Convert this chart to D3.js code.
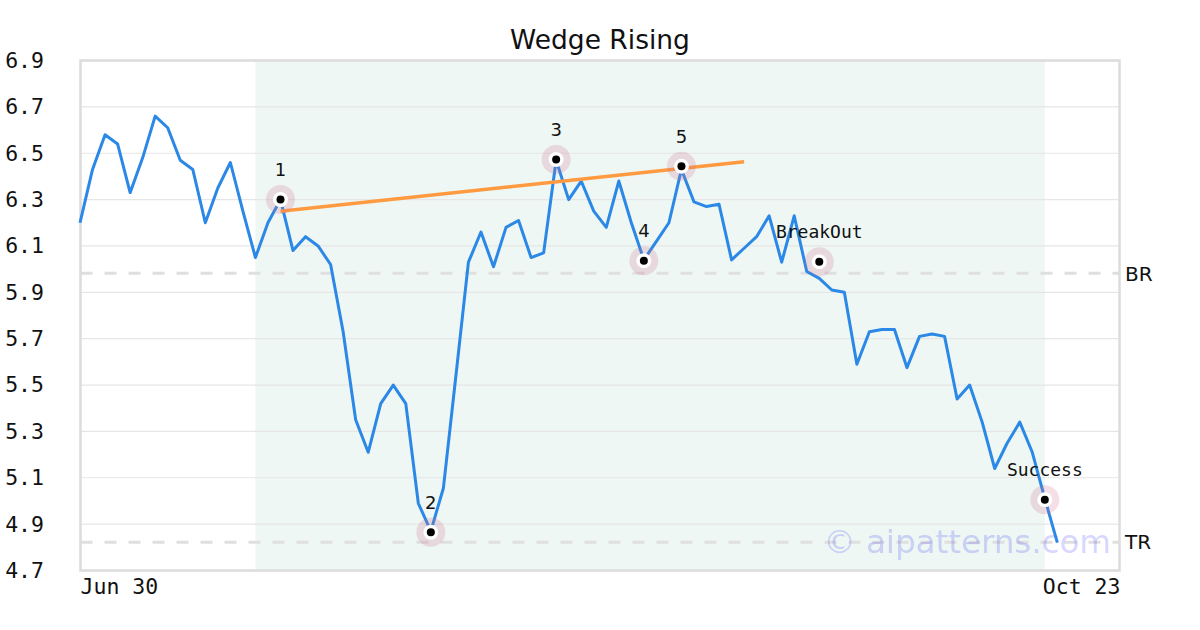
<!DOCTYPE html>
<html>
<head>
<meta charset="utf-8">
<script src="https://cdn.jsdelivr.net/npm/d3@7"></script>
<style>
  html, body { margin: 0; padding: 0; background: #ffffff; }
  svg { display: block; }
</style>
</head>
<body>
<svg id="chart" width="1200" height="630"></svg>
<script>
// ---- data ----
const title = "Wedge Rising";
const prices = [
  6.20, 6.43, 6.58, 6.54, 6.33, 6.48, 6.66, 6.61, 6.47, 6.43,
  6.20, 6.35, 6.46, 6.25, 6.05, 6.20, 6.30, 6.08, 6.14, 6.10,
  6.02, 5.73, 5.35, 5.21, 5.42, 5.50, 5.42, 4.99, 4.87, 5.055,
  5.54, 6.03, 6.16, 6.01, 6.18, 6.21, 6.05, 6.07, 6.47, 6.30,
  6.38, 6.25, 6.18, 6.38, 6.20, 6.04, 6.12, 6.20, 6.43, 6.29,
  6.27, 6.28, 6.04, 6.09, 6.14, 6.23, 6.03, 6.23, 5.99, 5.96,
  5.91, 5.90, 5.59, 5.73, 5.74, 5.74, 5.575, 5.71, 5.72, 5.71,
  5.44, 5.50, 5.34, 5.14, 5.25, 5.34, 5.21, 5.01, 4.82
];
const markerIdx    = [16, 28, 38, 45, 48, 59, 77];
const markerVals   = [6.30, 4.865, 6.473, 6.036, 6.444, 6.032, 5.005];
const markerLabels = ["1", "2", "3", "4", "5", "BreakOut", "Success"];
const trendIdx  = [16, 53];
const trendVals = [6.25, 6.463];
const shadeIdx  = [14, 77];
const levelNames = ["BR", "TR"];
const levelVals  = [5.982, 4.822];
const yTicks = [4.7, 4.9, 5.1, 5.3, 5.5, 5.7, 5.9, 6.1, 6.3, 6.5, 6.7, 6.9];
const xTickIdx = [0, 83];
const xTickLabels = ["Jun 30", "Oct 23"];
const xDomain = [0, 83];
const yDomain = [4.7, 6.9];
const watermark = "\u00a9 aipatterns.com";

// ---- layout ----
const L = 80.5, R = 1119.5, T = 60.5, B = 570.5;
const svg = d3.select("#chart");
const x = d3.scaleLinear().domain(xDomain).range([80, 1120]);
const y = d3.scaleLinear().domain(yDomain).range([B, T]);
const mono = "'DejaVu Sans Mono', monospace";
const sans = "'DejaVu Sans', sans-serif";

// shaded pattern region
svg.append("rect")
  .attr("x", x(shadeIdx[0])).attr("y", T)
  .attr("width", x(shadeIdx[1]) - x(shadeIdx[0])).attr("height", B - T)
  .attr("fill", "#eef7f3");

// grid
svg.append("g").selectAll("line")
  .data(yTicks.filter(v => v > yDomain[0] && v < yDomain[1]))
  .join("line")
  .attr("x1", L).attr("x2", R)
  .attr("y1", d => y(d)).attr("y2", d => y(d))
  .attr("stroke", "#e6e6e6").attr("stroke-width", 1.2);

// level lines
svg.append("g").selectAll("line").data(levelVals).join("line")
  .attr("x1", L).attr("x2", R)
  .attr("y1", d => y(d)).attr("y2", d => y(d))
  .attr("stroke", "#dfdfdf").attr("stroke-width", 3)
  .attr("stroke-dasharray", "12,12");
svg.append("g").selectAll("text").data(levelVals).join("text")
  .attr("x", 1125).attr("y", d => y(d))
  .attr("dy", "0.36em")
  .attr("font-family", sans).attr("font-size", 20)
  .attr("fill", "#111")
  .text((d, i) => levelNames[i]);

// frame
svg.append("rect")
  .attr("x", L).attr("y", T).attr("width", R - L).attr("height", B - T)
  .attr("fill", "none").attr("stroke", "#dcdcdc").attr("stroke-width", 2.5);

// y axis
const yAxis = d3.axisLeft(y).tickValues(yTicks).tickSize(0).tickPadding(36)
  .tickFormat(d3.format(".1f"));
const ya = svg.append("g").attr("transform", `translate(80,0)`).call(yAxis);
ya.select(".domain").remove();
ya.selectAll("text").attr("font-family", mono).attr("font-size", 21.5).attr("fill", "#111");

// x axis
const xAxis = d3.axisBottom(x).tickValues(xTickIdx).tickSize(0).tickPadding(8)
  .tickFormat((d, i) => xTickLabels[i]);
const xa = svg.append("g").attr("transform", `translate(0,${B})`).call(xAxis);
xa.select(".domain").remove();
xa.selectAll("text").attr("font-family", mono).attr("font-size", 21.5).attr("fill", "#111")
  .attr("text-anchor", (d, i) => i === 0 ? "start" : "end");

// watermark
svg.append("text")
  .attr("x", 1111).attr("y", 553)
  .attr("text-anchor", "end")
  .attr("font-family", sans).attr("font-size", 32.5)
  .attr("fill", "#0000ff").attr("fill-opacity", 0.18)
  .text(watermark);

// price line
svg.append("path")
  .datum(prices)
  .attr("d", d3.line().x((d, i) => x(i)).y(d => y(d)))
  .attr("fill", "none").attr("stroke", "#2b88e6").attr("stroke-width", 3)
  .attr("stroke-linejoin", "round");

// trend line
svg.append("line")
  .attr("x1", x(trendIdx[0])).attr("y1", y(trendVals[0]))
  .attr("x2", x(trendIdx[1])).attr("y2", y(trendVals[1]))
  .attr("stroke", "#ff9a40").attr("stroke-width", 3.5);

// markers
const mk = svg.append("g").selectAll("g").data(markerIdx).join("g")
  .attr("transform", (d, i) => `translate(${x(d)},${y(markerVals[i])})`);
mk.append("circle").attr("r", 14.5).attr("fill", "#cc6f8f").attr("fill-opacity", 0.22);
mk.append("circle").attr("r", 7.5).attr("fill", "#ffffff");
mk.append("circle").attr("r", 4).attr("fill", "#000000");
mk.append("text")
  .attr("y", -30).attr("dy", "0.36em")
  .attr("text-anchor", "middle")
  .attr("font-family", (d, i) => markerLabels[i].length > 1 ? mono : sans)
  .attr("font-size", 18)
  .attr("fill", "#111")
  .text((d, i) => markerLabels[i]);

// title
svg.append("text")
  .attr("x", 600).attr("y", 49)
  .attr("text-anchor", "middle")
  .attr("font-family", sans).attr("font-size", 26.5)
  .attr("fill", "#111")
  .text(title);
</script>
</body>
</html>
